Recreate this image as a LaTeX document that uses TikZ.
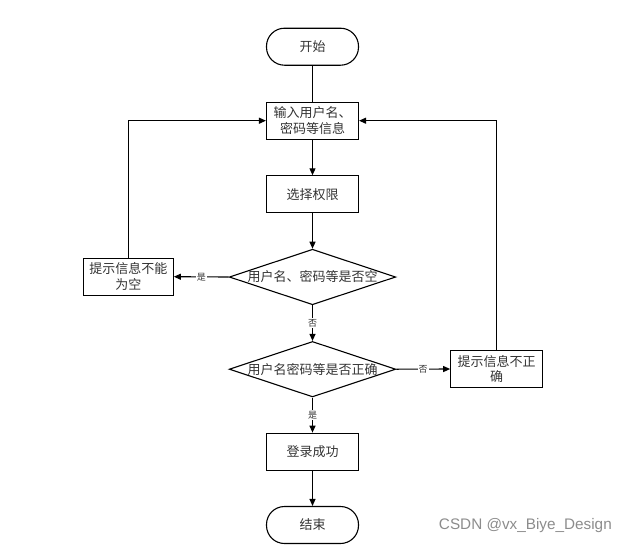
\documentclass[tikz,border=0pt]{standalone}
\usepackage{fontspec}
\setmainfont{Liberation Sans}
\newfontfamily\cjk{Noto Sans CJK SC}
\usetikzlibrary{shapes.geometric,arrows.meta}
\begin{document}
\begin{tikzpicture}[x=1pt,y=-1pt,
  base/.style={draw=black,line width=1.1pt,text=black!80,font=\cjk\fontsize{13}{15.6}\selectfont,align=center,inner sep=0pt},
  term/.style={base,rectangle,rounded corners=18pt,minimum width=92pt,minimum height=37pt},
  proc/.style={base,rectangle,minimum width=92pt,minimum height=37pt},
  dec/.style={base,diamond,aspect=3,minimum width=165pt,minimum height=55pt},
  conn/.style={line width=1.1pt,draw=black},
  arr/.style={conn,-{Triangle[length=7pt,width=6pt]}},
  lab/.style={fill=white,inner sep=1pt,text=black!80,font=\cjk\fontsize{9}{10}\selectfont}]
\useasboundingbox (0,0) rectangle (627,550);
\node[term] (start) at (312.5,46.7) {开始};
\node[proc] (input) at (312.5,120.7) {输入用户名、\\密码等信息};
\node[proc] (sel) at (312.5,194.3) {选择权限};
\node[dec] (d1) at (312.5,277) {用户名、密码等是否空};
\node[proc,minimum width=90pt] (empty) at (128.3,276.7) {提示信息不能\\为空};
\node[dec] (d2) at (312.5,369.2) {用户名密码等是否正确};
\node[proc] (wrong) at (496.7,369) {提示信息不正\\确};
\node[proc] (ok) at (312.5,451.7) {登录成功};
\node[term] (end) at (312.5,525) {结束};
\node[anchor=east,text=black!45,font=\fontsize{15.3}{17}\selectfont,inner sep=0pt] (wm) at (612,526) {CSDN @vx\_Biye\_Design};

\draw[conn] (start) -- (input);
\draw[arr] (input) -- (sel);
\draw[arr] (sel) -- (d1);
\draw[arr] (d1.west) -- node[lab] {是} (empty.east);
\draw[arr] (empty.north) |- (input.west);
\draw[arr] (d1.south) -- node[lab] {否} (d2.north);
\draw[arr] (d2.east) -- node[lab] {否} (wrong.west);
\draw[arr] (wrong.north) |- (input.east);
\draw[arr] (d2.south) -- node[lab] {是} (ok.north);
\draw[arr] (ok) -- (end);
\end{tikzpicture}
\end{document}
